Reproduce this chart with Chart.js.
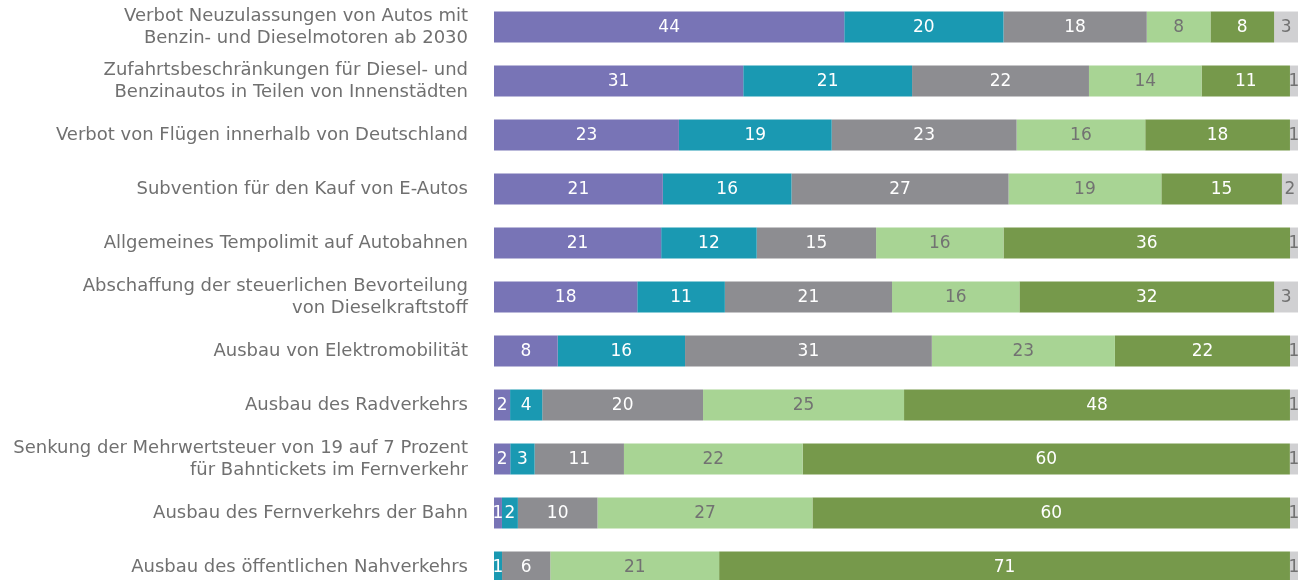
<!DOCTYPE html>
<html>
<head>
<meta charset="utf-8">
<script src="https://cdn.jsdelivr.net/npm/chart.js@4"></script>
<style>
  html, body { margin: 0; padding: 0; background: #fff; overflow: hidden; }
  .wrap { position: relative; width: 1306px; height: 594px; }
</style>
</head>
<body>
<div class="wrap"><canvas id="chart"></canvas></div>
<script>
const categories = [
  ["Verbot Neuzulassungen von Autos mit", "Benzin- und Dieselmotoren ab 2030"],
  ["Zufahrtsbeschränkungen für Diesel- und", "Benzinautos in Teilen von Innenstädten"],
  "Verbot von Flügen innerhalb von Deutschland",
  "Subvention für den Kauf von E-Autos",
  "Allgemeines Tempolimit auf Autobahnen",
  ["Abschaffung der steuerlichen Bevorteilung", "von Dieselkraftstoff"],
  "Ausbau von Elektromobilität",
  "Ausbau des Radverkehrs",
  ["Senkung der Mehrwertsteuer von 19 auf 7 Prozent", "für Bahntickets im Fernverkehr"],
  "Ausbau des Fernverkehrs der Bahn",
  "Ausbau des öffentlichen Nahverkehrs"
];

const seriesA = [44, 31, 23, 21, 21, 18, 8, 2, 2, 1, 0];
const seriesB = [20, 21, 19, 16, 12, 11, 16, 4, 3, 2, 1];
const seriesC = [18, 22, 23, 27, 15, 21, 31, 20, 11, 10, 6];
const seriesD = [8, 14, 16, 19, 16, 16, 23, 25, 22, 27, 21];
const seriesE = [8, 11, 18, 15, 36, 32, 22, 48, 60, 60, 71];
const seriesF = [3, 1, 1, 2, 1, 3, 1, 1, 1, 1, 1];

const allSeries = [seriesA, seriesB, seriesC, seriesD, seriesE, seriesF];
const colors = ["#7874B6", "#1A99B2", "#8D8D91", "#A8D494", "#76994B", "#D0D0D2"];
const labelColors = ["#ffffff", "#ffffff", "#ffffff", "#727272", "#ffffff", "#727272"];

// each row is stretched to the full width, labels keep the printed values
const rowSums = categories.map((c, i) => allSeries.reduce((s, arr) => s + arr[i], 0));

const datasets = allSeries.map((arr, k) => ({
  raw: arr,
  data: arr.map((v, i) => v / rowSums[i] * 100),
  backgroundColor: colors[k],
  borderWidth: 0,
  barPercentage: 1,
  categoryPercentage: 0.574
}));

const valueLabels = {
  id: "valueLabels",
  afterDatasetsDraw(chart) {
    const ctx = chart.ctx;
    ctx.save();
    ctx.font = "17px 'DejaVu Sans'";
    ctx.textAlign = "center";
    ctx.textBaseline = "middle";
    chart.data.datasets.forEach((ds, k) => {
      chart.getDatasetMeta(k).data.forEach((bar, i) => {
        const v = ds.raw[i];
        if (!v) return;
        ctx.fillStyle = labelColors[k];
        ctx.fillText(String(v), (bar.x + bar.base) / 2, bar.y + 1);
      });
    });
    ctx.restore();
  }
};

new Chart(document.getElementById("chart"), {
  type: "bar",
  data: { labels: categories, datasets: datasets },
  plugins: [valueLabels],
  options: {
    indexAxis: "y",
    responsive: true,
    maintainAspectRatio: false,
    animation: false,
    layout: { padding: { left: 0, right: 8, top: 0, bottom: 0 } },
    plugins: { legend: { display: false }, tooltip: { enabled: false } },
    scales: {
      x: { stacked: true, min: 0, max: 100, display: false },
      y: {
        stacked: true,
        grid: { display: false, drawTicks: false },
        border: { display: false },
        afterFit(scale) {
          scale.width = 494;
          scale.paddingTop = 0;
          scale.paddingBottom = 0;
        },
        ticks: {
          color: "#707070",
          padding: 26,
          font: { family: "'DejaVu Sans'", size: 18, lineHeight: 1.22 }
        }
      }
    }
  }
});
</script>
</body>
</html>
